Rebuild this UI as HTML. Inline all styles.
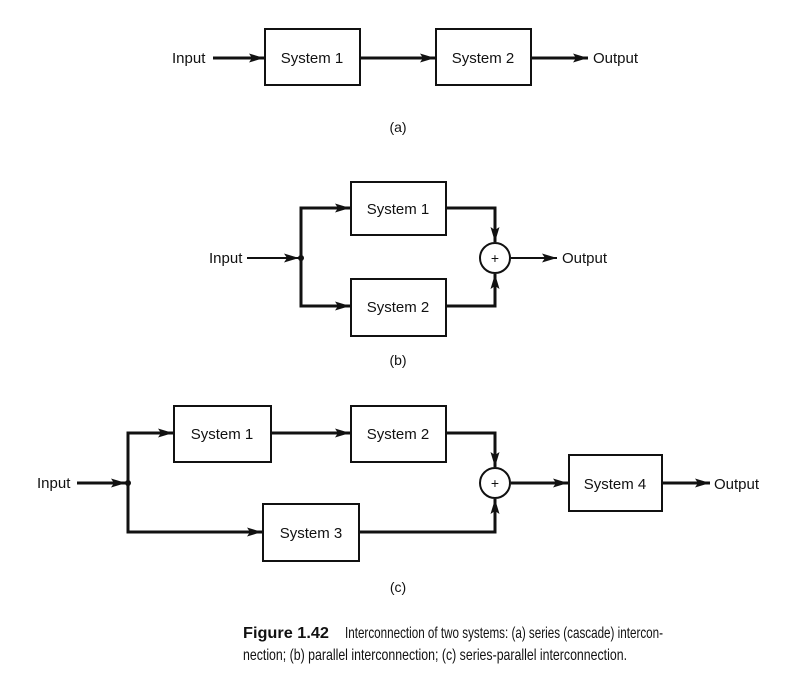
<!DOCTYPE html>
<html><head><meta charset="utf-8"><style>
html,body{margin:0;padding:0;background:#fff;}
svg{display:block;}
text{font-family:"Liberation Sans",sans-serif;fill:#111;}
</style></head><body>
<svg width="793" height="678" viewBox="0 0 793 678" xmlns="http://www.w3.org/2000/svg">
<defs>
<marker id="a" viewBox="0 0 15 9" refX="15" refY="4.5" markerWidth="15" markerHeight="9" markerUnits="userSpaceOnUse" orient="auto">
<path d="M0,0 L15,4.5 L0,9 L3,4.5 z" fill="#111"/></marker>
</defs>
<g stroke="#111" stroke-width="3" fill="none">
<rect x="265" y="29" width="95" height="56" stroke-width="2"/>
<rect x="436" y="29" width="95" height="56" stroke-width="2"/>
<line x1="213" y1="58" x2="264" y2="58" marker-end="url(#a)"/>
<line x1="361" y1="58" x2="435" y2="58" marker-end="url(#a)"/>
<line x1="532" y1="58" x2="588" y2="58" marker-end="url(#a)"/>
<rect x="351" y="182" width="95" height="53" stroke-width="2"/>
<rect x="351" y="279" width="95" height="57" stroke-width="2"/>
<line x1="247" y1="258" x2="299" y2="258" stroke-width="2" marker-end="url(#a)"/>
<polyline points="301,306 301,208 350,208" marker-end="url(#a)"/>
<polyline points="301,258 301,306 350,306" marker-end="url(#a)"/>
<polyline points="447,208 495,208 495,242" marker-end="url(#a)"/>
<polyline points="447,306 495,306 495,274" marker-end="url(#a)"/>
<circle cx="495" cy="258" r="15" stroke-width="2"/>
<line x1="511" y1="258" x2="557" y2="258" stroke-width="2" marker-end="url(#a)"/>
<rect x="174" y="406" width="97" height="56" stroke-width="2"/>
<rect x="351" y="406" width="95" height="56" stroke-width="2"/>
<rect x="263" y="504" width="96" height="57" stroke-width="2"/>
<rect x="569" y="455" width="93" height="56" stroke-width="2"/>
<line x1="77" y1="483" x2="126" y2="483" marker-end="url(#a)"/>
<polyline points="128,532 128,433 173,433" marker-end="url(#a)"/>
<polyline points="128,483 128,532 262,532" marker-end="url(#a)"/>
<line x1="272" y1="433" x2="350" y2="433" marker-end="url(#a)"/>
<polyline points="447,433 495,433 495,467" marker-end="url(#a)"/>
<polyline points="360,532 495,532 495,499" marker-end="url(#a)"/>
<circle cx="495" cy="483" r="15" stroke-width="2"/>
<line x1="511" y1="483" x2="568" y2="483" marker-end="url(#a)"/>
<line x1="663" y1="483" x2="710" y2="483" marker-end="url(#a)"/>
</g>
<circle cx="301" cy="258" r="3" fill="#111"/>
<circle cx="128" cy="483" r="3" fill="#111"/>
<g font-size="15">
<text x="172" y="63">Input</text>
<text x="312" y="63" text-anchor="middle">System 1</text>
<text x="483" y="63" text-anchor="middle">System 2</text>
<text x="593" y="63">Output</text>
<text x="398" y="132" text-anchor="middle" font-size="14">(a)</text>
<text x="209" y="263">Input</text>
<text x="398" y="214" text-anchor="middle">System 1</text>
<text x="398" y="312" text-anchor="middle">System 2</text>
<text x="495" y="263" text-anchor="middle" font-size="14">+</text>
<text x="562" y="263">Output</text>
<text x="398" y="365" text-anchor="middle" font-size="14">(b)</text>
<text x="37" y="488">Input</text>
<text x="222" y="439" text-anchor="middle">System 1</text>
<text x="398" y="439" text-anchor="middle">System 2</text>
<text x="311" y="538" text-anchor="middle">System 3</text>
<text x="615" y="489" text-anchor="middle">System 4</text>
<text x="495" y="488" text-anchor="middle" font-size="14">+</text>
<text x="714" y="489">Output</text>
<text x="398" y="592" text-anchor="middle" font-size="14">(c)</text>
</g>
<g font-size="16">
<text x="243" y="638" font-weight="bold" textLength="86" lengthAdjust="spacingAndGlyphs">Figure 1.42</text>
<text x="345" y="638" textLength="318" lengthAdjust="spacingAndGlyphs">Interconnection of two systems: (a) series (cascade) intercon-</text>
<text x="243" y="660" textLength="384" lengthAdjust="spacingAndGlyphs">nection; (b) parallel interconnection; (c) series-parallel interconnection.</text>
</g>
</svg>
</body></html>
